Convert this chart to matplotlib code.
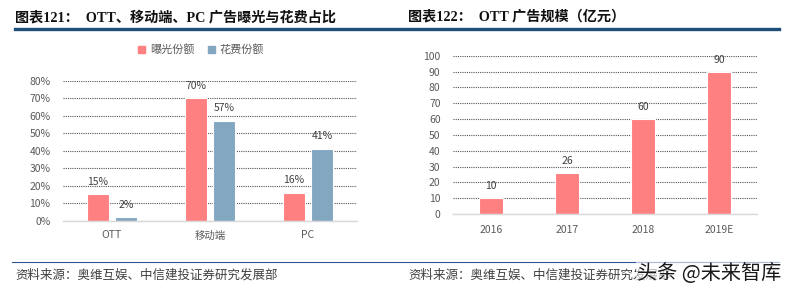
import matplotlib
matplotlib.use("Agg")
import matplotlib.pyplot as plt
import numpy as np
from matplotlib.lines import Line2D
from matplotlib.patches import Rectangle

plt.rcParams['font.family'] = ['Noto Sans CJK SC', 'DejaVu Sans']

# Data
left_categories = ['OTT', '移动端', 'PC']
exposure_share = [15, 70, 16]
spend_share = [2, 57, 41]
left_series_names = ['曝光份额', '花费份额']
left_yticks = [0, 10, 20, 30, 40, 50, 60, 70, 80]

right_categories = ['2016', '2017', '2018', '2019E']
ott_ad_scale = [10, 26, 60, 90]
right_yticks = [0, 10, 20, 30, 40, 50, 60, 70, 80, 90, 100]

title_left = '图表121：  OTT、移动端、PC 广告曝光与花费占比'
title_right = '图表122：  OTT 广告规模（亿元）'
source_text = '资料来源：奥维互娱、中信建投证券研究发展部'
watermark = '头条 @未来智库'

RED = '#FF8080'
BLUE = '#84A7C1'
GRID = '#555555'
TXT = '#595959'

W, H = 791, 293
fig = plt.figure(figsize=(W / 100, H / 100), dpi=100)

def fx(px):
    return px / W

def fy(py):
    return 1 - py / H

title_fam = ['Liberation Serif', 'Noto Sans CJK SC']

# Titles
fig.text(fx(15), fy(17), title_left, fontsize=10.2, fontweight='bold',
         family=title_fam, va='center', ha='left', color='#111111')
fig.text(fx(408), fy(17), title_right, fontsize=10.2, fontweight='bold',
         family=title_fam, va='center', ha='left', color='#111111')

# Title rule
fig.add_artist(Line2D([fx(15), fx(779)], [fy(29), fy(29)], color='#1F4E79', lw=2.4))
# Footer rule
fig.add_artist(Line2D([fx(12), fx(779)], [fy(262), fy(262)], color='#2F5597', lw=0.8))

# Footer text
fig.text(fx(15), fy(275), source_text, fontsize=9, color='#404040', va='center', ha='left')
fig.text(fx(408), fy(275), source_text, fontsize=9, color='#404040', va='center', ha='left')
# Watermark overlays the right footer, as in the reference
fig.text(fx(781), fy(273), watermark, fontsize=14.5, color='#1a1a1a', va='center', ha='right',
         bbox=dict(facecolor='white', edgecolor='none', alpha=0.6, pad=0.5), zorder=10)

def style_axes(ax, ticks):
    ax.set_yticks(ticks)
    for s in ['top', 'right', 'left']:
        ax.spines[s].set_visible(False)
    ax.spines['bottom'].set_color('#D9D9D9')
    ax.spines['bottom'].set_linewidth(1.0)
    ax.tick_params(axis='both', length=0, labelsize=7.5, colors=TXT)
    ax.yaxis.grid(True, color=GRID, linestyle=(0, (1, 1)), linewidth=0.8)
    ax.set_axisbelow(True)

# Left chart
axL = fig.add_axes([fx(63), fy(220.7), fx(357 - 63), (220.7 - 80.7) / H])
x = np.arange(len(left_categories))
w = 0.224
off = 0.143
b1 = axL.bar(x - off, exposure_share, width=w, color=RED, edgecolor='white', linewidth=0.8, label=left_series_names[0])
b2 = axL.bar(x + off, spend_share, width=w, color=BLUE, edgecolor='white', linewidth=0.8, label=left_series_names[1])
axL.set_xlim(-0.5, 2.5)
axL.set_ylim(0, 80)
style_axes(axL, left_yticks)
axL.set_yticklabels([f'{t}%' for t in left_yticks])
axL.set_xticks(x)
axL.set_xticklabels(left_categories)
axL.tick_params(axis='x', pad=7)
axL.tick_params(axis='y', pad=9)
for bars, vals in [(b1, exposure_share), (b2, spend_share)]:
    for rect, v in zip(bars, vals):
        axL.annotate(f'{v}%', (rect.get_x() + rect.get_width() / 2, v),
                     xytext=(0, 5.5), textcoords='offset points', ha='center', va='bottom',
                     fontsize=7.5, color='#404040')

# Legend
fig.legend(handles=[Rectangle((0, 0), 1, 1, color=RED), Rectangle((0, 0), 1, 1, color=BLUE)],
           labels=left_series_names, loc='center', bbox_to_anchor=(fx(201), fy(50)),
           ncol=2, frameon=False, fontsize=8, handlelength=0.7, handleheight=0.7,
           handletextpad=0.4, columnspacing=1.2, labelcolor=TXT)

# Right chart
axR = fig.add_axes([fx(453), fy(214), fx(757 - 453), (214 - 55.7) / H])
xr = np.arange(len(right_categories))
br = axR.bar(xr, ott_ad_scale, width=0.316, color=RED, edgecolor='white', linewidth=0.8)
axR.set_xlim(-0.5, 3.5)
axR.set_ylim(0, 100)
style_axes(axR, right_yticks)
axR.set_xticks(xr)
axR.set_xticklabels(right_categories)
axR.tick_params(axis='x', pad=8)
axR.tick_params(axis='y', pad=9)
for rect, v in zip(br, ott_ad_scale):
    axR.annotate(f'{v}', (rect.get_x() + rect.get_width() / 2, v),
                 xytext=(0, 5), textcoords='offset points', ha='center', va='bottom',
                 fontsize=7.5, color='#404040')

fig.savefig('out.png', dpi=100)
